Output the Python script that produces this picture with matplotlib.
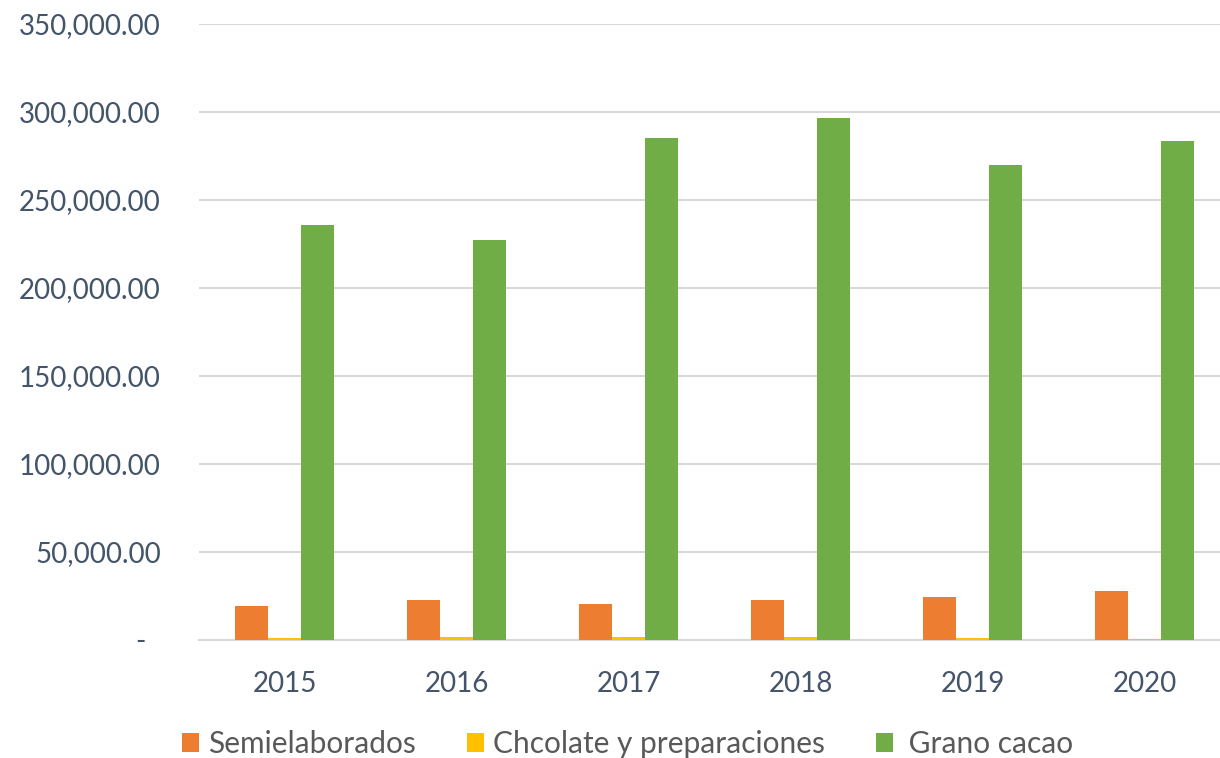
import numpy as np
import matplotlib.pyplot as plt
from matplotlib.ticker import FuncFormatter

years = ['2015', '2016', '2017', '2018', '2019', '2020']
semielaborados = [19300, 22500, 20500, 22700, 24300, 27800]
chocolate = [1300, 1700, 1500, 1700, 1200, 500]
grano = [235800, 227300, 285200, 296600, 269900, 283500]

series_names = ['Semielaborados', 'Chcolate y preparaciones', ' Grano cacao']
colors = ['#ED7D31', '#FFC000', '#70AD47']


def fmt(v, pos):
  if v == 0:
    return '-  '
  return '{:,.2f}'.format(v)


def main():
  plt.rcParams['font.family'] = ['Lato', 'DejaVu Sans']
  fig = plt.figure(figsize=(12.2, 7.58), dpi=100)
  ax = fig.add_axes([198.5 / 1220, 1 - 640 / 758, 1032 / 1220, 616 / 758])

  x = np.arange(len(years))
  w = 0.192
  data = [semielaborados, chocolate, grano]
  for i, vals in enumerate(data):
    ax.bar(x + (i - 1) * w, vals, w, color=colors[i], label=series_names[i], zorder=3)

  ax.set_xlim(-0.5, len(years) - 0.5)
  ax.set_ylim(0, 350000)
  ax.set_yticks(np.arange(0, 350001, 50000))
  ax.yaxis.set_major_formatter(FuncFormatter(fmt))
  ax.set_xticks(x)
  ax.set_xticklabels(years)
  ax.grid(axis='y', color='#D9D9D9', linewidth=1.5, zorder=0)
  for s in ['top', 'right', 'left']:
    ax.spines[s].set_visible(False)
  ax.spines['bottom'].set_color('#D9D9D9')
  ax.spines['bottom'].set_linewidth(1.5)
  ax.tick_params(axis='both', length=0, labelsize=20, labelcolor='#44546A')
  ax.tick_params(axis='y', pad=27)
  ax.tick_params(axis='x', pad=22)

  fig.legend(loc='center', bbox_to_anchor=(628 / 1220, 1 - 744 / 758), ncol=3,
             frameon=False, fontsize=21.5, labelcolor='#595959',
             handlelength=0.57, handleheight=0.57, handletextpad=0.3, columnspacing=1.7)

  fig.savefig('out.png', dpi=100)

main()
